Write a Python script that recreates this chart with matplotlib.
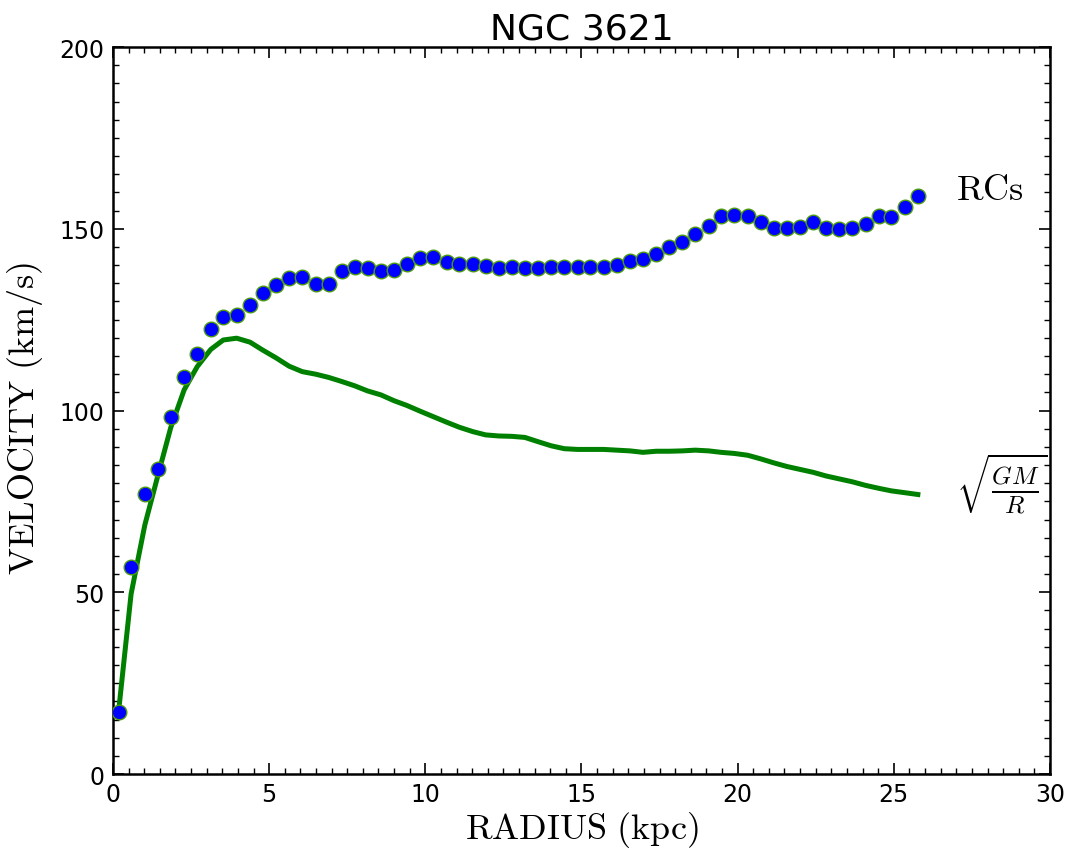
import numpy as np
import matplotlib
matplotlib.use("Agg")
import matplotlib.pyplot as plt
from matplotlib.ticker import MultipleLocator

plt.rcParams["mathtext.fontset"] = "cm"

# observed rotation curve (kpc, km/s)
radius = [0.20, 0.58, 1.02, 1.45, 1.85, 2.28, 2.70, 3.13, 3.53, 3.96,
          4.39, 4.80, 5.22, 5.64, 6.06, 6.49, 6.91, 7.32, 7.74, 8.15,
          8.58, 9.00, 9.41, 9.84, 10.26, 10.68, 11.09, 11.52, 11.93, 12.35,
          12.77, 13.19, 13.62, 14.03, 14.45, 14.88, 15.28, 15.71, 16.13, 16.55,
          16.97, 17.39, 17.81, 18.23, 18.64, 19.07, 19.47, 19.89, 20.32, 20.74,
          21.16, 21.58, 22.00, 22.42, 22.83, 23.25, 23.67, 24.10, 24.52, 24.92,
          25.35, 25.77]
v_obs = [17.2, 57.0, 76.9, 84.0, 98.3, 109.1, 115.5, 122.3, 125.7, 126.3,
         129.0, 132.3, 134.6, 136.5, 136.6, 134.9, 134.9, 138.4, 139.4, 139.1,
         138.3, 138.7, 140.3, 142.0, 142.2, 140.8, 140.2, 140.4, 139.8, 139.3,
         139.4, 139.2, 139.3, 139.4, 139.4, 139.5, 139.6, 139.6, 139.9, 141.0,
         141.6, 143.1, 145.1, 146.4, 148.7, 150.8, 153.4, 153.9, 153.5, 152.0,
         150.3, 150.1, 150.4, 151.9, 150.1, 149.9, 150.1, 151.2, 153.5, 153.2,
         156.0, 158.9]
# keplerian sqrt(GM/R) from the baryonic mass
v_kep = [18.8, 49.5, 68.5, 82.5, 95.3, 105.7, 112.1, 116.8, 119.4, 119.9,
         118.8, 116.6, 114.5, 112.2, 110.7, 110.0, 109.1, 108.0, 106.8, 105.4,
         104.3, 102.7, 101.4, 99.8, 98.3, 96.8, 95.4, 94.2, 93.3, 93.0,
         92.9, 92.6, 91.4, 90.3, 89.5, 89.3, 89.3, 89.3, 89.1, 88.9,
         88.5, 88.8, 88.8, 88.9, 89.1, 88.9, 88.5, 88.2, 87.7, 86.7,
         85.6, 84.6, 83.8, 83.0, 82.0, 81.2, 80.4, 79.4, 78.6, 77.9,
         77.4, 76.9]

fig = plt.figure(figsize=(10.82, 8.53), dpi=100)
ax = fig.add_axes([0.1044, 0.0914, 0.8660, 0.8523])

ax.plot(radius, v_kep, color="green", linewidth=3.6, zorder=2)
ax.plot(radius, v_obs, linestyle="none", marker="o", markersize=10.5,
        markerfacecolor="blue", markeredgecolor="#4a9a10", markeredgewidth=1.0, zorder=3)

ax.text(27.0, 161, r"$\mathrm{RCs}$", fontsize=26, ha="left", va="center")
ax.text(27.0, 80, r"$\sqrt{\frac{GM}{R}}$", fontsize=26, ha="left", va="center", clip_on=False)

ax.set_xlim(0, 30)
ax.set_ylim(0, 200)
ax.xaxis.set_major_locator(MultipleLocator(5))
ax.xaxis.set_minor_locator(MultipleLocator(0.5))
ax.yaxis.set_major_locator(MultipleLocator(50))
ax.yaxis.set_minor_locator(MultipleLocator(5))
ax.tick_params(which="both", direction="in", top=True, right=True, labelsize=17, pad=6)
ax.tick_params(which="major", length=8, width=1.2)
ax.tick_params(which="minor", length=4, width=1.0)
for s in ax.spines.values():
    s.set_linewidth(1.8)

ax.set_xlabel(r"$\mathrm{RADIUS\ (kpc)}$", fontsize=26, labelpad=2)
ax.set_ylabel(r"$\mathrm{VELOCITY\ (km/s)}$", fontsize=26)
ax.yaxis.set_label_coords(-0.072, 0.49)
ax.set_title("NGC 3621", fontsize=26, pad=6)

fig.savefig("out.png", dpi=100)
